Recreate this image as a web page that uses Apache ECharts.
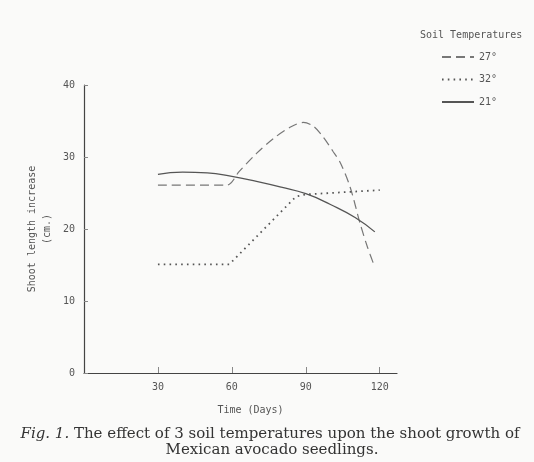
<!DOCTYPE html>
<html>
<head>
<meta charset="utf-8">
<script src="https://cdn.jsdelivr.net/npm/echarts@6/dist/echarts.min.js"></script>
<style>
html,body{margin:0;padding:0;background:#fafaf9;}
#main{width:534px;height:462px;}
</style>
</head>
<body>
<div id="main"></div>
<script>
// values: [day, shoot length increase (cm.)]
var names = ['27°', '32°', '21°'];
var temp27 = [[30,26.1],[58,26.1],[63,28],[70,30.5],[77,32.6],[84,34.2],[89,34.8],[93,34.3],[97,32.8],[101,30.8],[104,29.2],[108,25.8],[112,20.8],[115,17.5],[118,14.7]];
var temp32 = [[30,15.1],[59,15.1],[86,24.5],[90,24.8],[120,25.4]];
var temp21 = [[30,27.6],[40,27.9],[50,27.8],[60,27.3],[70,26.6],[80,25.8],[90,24.9],[100,23.4],[110,21.6],[118,19.6]];
var xTicks = [30, 60, 90, 120];
var yTicks = [0, 10, 20, 30, 40];

var ink = '#555';
var mono = 'DejaVu Sans Mono';
var serif = 'DejaVu Serif';

var chart = echarts.init(document.getElementById('main'));
chart.setOption({
	backgroundColor: '#fafaf9',
	animation: false,
	title: {
		text: 'Soil Temperatures',
		left: 420, top: 30, padding: 0,
		textStyle: {fontFamily: mono, fontSize: 10, fontWeight: 'normal', color: ink}
	},
	graphic: [{
		type: 'text', x: 270, y: 434,
		style: {
			text: '{i|Fig. 1.} The effect of 3 soil temperatures upon the shoot growth of',
			align: 'center', verticalAlign: 'middle',
			fontFamily: serif, fontSize: 15, fill: '#333',
			rich: {i: {fontFamily: serif, fontSize: 15, fontStyle: 'italic', fill: '#333'}}
		}
	}, {
		type: 'text', x: 272, y: 450,
		style: {
			text: 'Mexican avocado seedlings.',
			align: 'center', verticalAlign: 'middle',
			fontFamily: serif, fontSize: 15, fill: '#333'
		}
	}],
	legend: {
		orient: 'vertical',
		left: 441, top: 52, padding: 0,
		itemWidth: 32, itemHeight: 12, itemGap: 12.5,
		itemStyle: {opacity: 0},
		data: names,
		textStyle: {fontFamily: mono, fontSize: 10, color: ink}
	},
	grid: {left: 84, top: 85, right: 137, bottom: 89},
	xAxis: {
		type: 'value', min: 0, max: 127, interval: 30,
		name: 'Time (Days)', nameLocation: 'middle', nameGap: 32,
		nameTextStyle: {fontFamily: mono, fontSize: 10, color: ink, padding: [0, 0, 0, 20]},
		axisLine: {lineStyle: {color: '#444', width: 1.2}},
		axisTick: {inside: true, length: 6, customValues: xTicks, lineStyle: {color: '#888'}},
		axisLabel: {customValues: xTicks, margin: 9, fontFamily: mono, fontSize: 10, color: ink},
		splitLine: {show: false}
	},
	yAxis: {
		type: 'value', min: 0, max: 40, interval: 10,
		name: 'Shoot length increase\n(cm.)', nameLocation: 'middle', nameGap: 29,
		nameMoveOverlap: false,
		nameTextStyle: {fontFamily: mono, fontSize: 10, color: ink, lineHeight: 15},
		axisLine: {show: true, lineStyle: {color: '#444', width: 1.2}},
		axisTick: {show: true, inside: true, length: 4, customValues: yTicks, lineStyle: {color: '#888'}},
		axisLabel: {margin: 9, fontFamily: mono, fontSize: 10, color: ink},
		splitLine: {show: false}
	},
	series: [{
		name: names[0], type: 'line', data: temp27, symbol: 'none', smooth: 0.3,
		lineStyle: {type: [9, 5], color: '#777', width: 1.2},
		itemStyle: {color: '#777'}
	}, {
		name: names[1], type: 'line', data: temp32, symbol: 'none',
		lineStyle: {type: [1.6, 4.2], color: '#555', width: 1.8},
		itemStyle: {color: '#555'}
	}, {
		name: names[2], type: 'line', data: temp21, symbol: 'none', smooth: true,
		lineStyle: {type: 'solid', color: '#555', width: 1.3},
		itemStyle: {color: '#555'}
	}]
});
</script>
</body>
</html>
